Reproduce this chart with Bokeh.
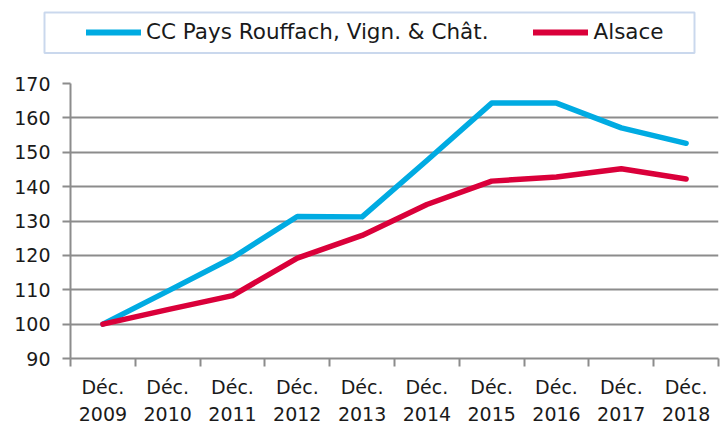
from bokeh.plotting import figure
from bokeh.models import FixedTicker, Range1d, Legend, LegendItem, ColumnDataSource, BoxAnnotation
from bokeh.embed import file_html
from bokeh.resources import INLINE
import numpy as np

years = ["2009", "2010", "2011", "2012", "2013", "2014", "2015", "2016", "2017", "2018"]
tick_labels = ["Déc.\n" + y for y in years]
cc_rouffach = [100, 109.6, 119.3, 131.3, 131.2, 147.6, 164.3, 164.3, 157.1, 152.6]
alsace = [100, 104.2, 108.3, 119.2, 125.8, 134.8, 141.6, 142.8, 145.2, 142.2]
series_names = ["CC Pays Rouffach, Vign. & Chât.", "Alsace"]
colors = ["#00ABE2", "#DA003A"]

FONT = "DejaVu Sans"
GRID = "#8C8C8C"
xpos = list(np.arange(len(years)) + 0.5)
src = ColumnDataSource(dict(x=xpos, cc=cc_rouffach, al=alsace))

# ---------- legend strip ----------
lg = figure(width=720, height=70, output_backend="svg", toolbar_location=None,
            x_range=Range1d(0, 720), y_range=Range1d(70, 0),
            x_axis_type=None, y_axis_type=None,
            min_border_left=0, min_border_right=0, min_border_top=0, min_border_bottom=0)
lg.outline_line_color = None
lg.grid.visible = False
l1 = lg.line("x", "cc", source=src, line_color=colors[0], line_width=6,
             line_cap="round", visible=False)
l2 = lg.line("x", "al", source=src, line_color=colors[1], line_width=6,
             line_cap="round", visible=False)
legend = Legend(items=[LegendItem(label=series_names[0], renderers=[l1]),
                       LegendItem(label=series_names[1], renderers=[l2])],
                orientation="horizontal", location=(86, 26),
                label_text_font=FONT, label_text_font_size="21.5px",
                label_text_color="#1a1a1a",
                glyph_width=55, glyph_height=24, label_standoff=5,
                spacing=45, padding=8, margin=0,
                border_line_color=None, background_fill_alpha=0)
lg.add_layout(legend, "center")
lg.add_layout(BoxAnnotation(left=44, right=694, top=12, bottom=52.5,
                            fill_alpha=0, line_color="#4F7FC4", line_width=2))

# ---------- main chart ----------
p = figure(width=720, height=358, output_backend="svg", toolbar_location=None,
           x_range=Range1d(0, len(years)), y_range=Range1d(90, 170),
           min_border_left=70, min_border_right=2, min_border_top=13, min_border_bottom=70)
p.outline_line_color = None

p.line("x", "cc", source=src, line_color=colors[0], line_width=5.5,
       line_cap="round", line_join="round")
p.line("x", "al", source=src, line_color=colors[1], line_width=5.5,
       line_cap="round", line_join="round")

xa = p.xaxis[0]
xa.ticker = FixedTicker(ticks=xpos, minor_ticks=list(range(len(years) + 1)))
xa.major_label_overrides = {float(x): lab for x, lab in zip(xpos, tick_labels)}
xa.major_tick_out = 0
xa.major_tick_in = 0
xa.minor_tick_out = 8
xa.minor_tick_in = 0
xa.minor_tick_line_color = GRID
xa.minor_tick_line_width = 2
xa.axis_line_color = GRID
xa.axis_line_width = 2
xa.major_label_standoff = 9
xa.major_label_text_font = FONT
xa.major_label_text_font_size = "19px"
xa.major_label_text_color = "#1a1a1a"
xa.major_label_text_line_height = 1.23

ya = p.yaxis[0]
ya.ticker = FixedTicker(ticks=list(range(90, 171, 10)))
ya.major_tick_out = 8
ya.major_tick_in = 0
ya.minor_tick_out = 0
ya.minor_tick_in = 0
ya.major_tick_line_color = GRID
ya.major_tick_line_width = 2
ya.axis_line_color = GRID
ya.axis_line_width = 2
ya.major_label_standoff = 12
ya.major_label_text_font = FONT
ya.major_label_text_font_size = "19px"
ya.major_label_text_color = "#1a1a1a"

p.xgrid.grid_line_color = None
p.ygrid.grid_line_color = GRID
p.ygrid.grid_line_width = 2

open("out.html", "w").write(file_html([lg, p], INLINE))
